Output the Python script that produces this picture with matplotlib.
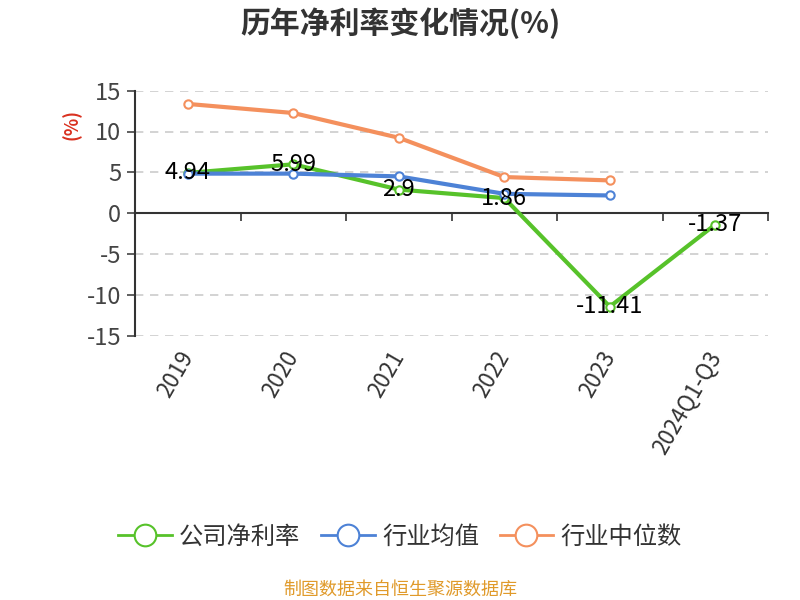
import numpy as np
import matplotlib.pyplot as plt
from matplotlib.ticker import FixedLocator

plt.rcParams['font.family'] = ['Noto Sans CJK SC', 'DejaVu Sans']
plt.rcParams['axes.unicode_minus'] = False

years = ["2019", "2020", "2021", "2022", "2023", "2024Q1-Q3"]
company = [4.94, 5.99, 2.9, 1.86, -11.41, -1.37]
ind_mean = [4.85, 4.85, 4.51, 2.38, 2.18, np.nan]
ind_median = [13.37, 12.26, 9.23, 4.43, 4.02, np.nan]
company_labels = ["4.94", "5.99", "2.9", "1.86", "-11.41", "-1.37"]

green = "#57c22a"
blue = "#4d82d6"
orange = "#f4905d"

fig = plt.figure(figsize=(8, 6), dpi=100)
fig.patch.set_facecolor("white")
ax = fig.add_axes([0.169, 0.44, 0.791, 0.409])

x = np.arange(len(years))

ax.plot(x, company, color=green, lw=3, marker="o", ms=6,
        mfc="white", mec=green, mew=1.5, zorder=3, label="公司净利率")
ax.plot(x, ind_mean, color=blue, lw=3, marker="o", ms=6,
        mfc="white", mec=blue, mew=1.5, zorder=3, label="行业均值")
ax.plot(x, ind_median, color=orange, lw=3, marker="o", ms=6,
        mfc="white", mec=orange, mew=1.5, zorder=3, label="行业中位数")

for xi, v, t in zip(x, company, company_labels):
    ax.text(xi, v, t, ha="center", va="center", fontsize=17,
            color="black", zorder=5)

ax.set_xlim(-0.5, 5.5)
ax.set_ylim(-15, 15)
ax.set_yticks([-15, -10, -5, 0, 5, 10, 15])
ax.tick_params(axis="y", labelsize=17, colors="#444444", length=6,
               width=1.2, pad=4)
ax.yaxis.grid(True, linestyle=(0, (5, 4)), color="#cccccc", lw=1.2)
ax.set_axisbelow(True)

# x axis line sits at zero, ticks between categories
ax.spines["bottom"].set_position(("data", 0))
ax.spines["bottom"].set_color("#333333")
ax.spines["bottom"].set_linewidth(1.5)
ax.spines["left"].set_color("#333333")
ax.spines["left"].set_linewidth(1.5)
ax.spines["top"].set_visible(False)
ax.spines["right"].set_visible(False)
ax.xaxis.set_major_locator(FixedLocator(np.arange(0.5, 6, 1)))
ax.set_xticklabels([])
ax.tick_params(axis="x", length=6, width=1.2, colors="#333333")

sec = ax.secondary_xaxis("bottom")
sec.set_xticks(x)
sec.set_xticklabels(years, rotation=60, ha="right", va="center",
                    rotation_mode="anchor", fontsize=16, color="#333333")
sec.tick_params(length=0, pad=12)
sec.spines["bottom"].set_visible(False)

ax.text(-0.1, 0.86, "(%)", transform=ax.transAxes, rotation=90,
        ha="center", va="center", fontsize=13, fontweight="bold",
        color="#d9301f")

fig.text(0.5, 0.962, "历年净利率变化情况(%)", ha="center", va="center",
         fontsize=21.5, fontweight="bold", color="#333333")

leg = fig.legend(loc="center", bbox_to_anchor=(0.5, 0.105), ncol=3,
                 frameon=False, prop={"size": 17.5}, handlelength=2.2,
                 columnspacing=0.85, handletextpad=0.3, markerscale=2.6)
for t in leg.get_texts():
    t.set_color("#333333")
for h in leg.legend_handles:
    h.set_linewidth(2)

fig.text(0.5, 0.017, "制图数据来自恒生聚源数据库", ha="center", va="center",
         fontsize=13, color="#e09a2a")

fig.savefig("out.png", dpi=100, facecolor="white")
